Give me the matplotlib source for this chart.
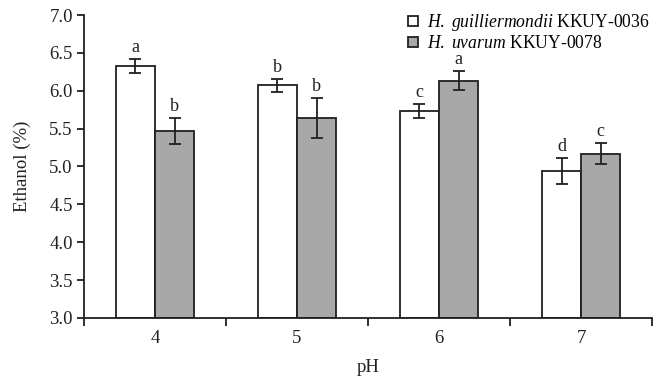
import matplotlib
matplotlib.use("Agg")
import matplotlib.pyplot as plt
from matplotlib.lines import Line2D
import numpy as np

plt.rcParams['font.family'] = 'serif'
plt.rcParams['font.serif'] = ['Liberation Serif', 'DejaVu Serif']
plt.rcParams['mathtext.fontset'] = 'custom'
plt.rcParams['mathtext.it'] = 'Liberation Serif:italic'
plt.rcParams['mathtext.rm'] = 'Liberation Serif'

# data
ph_levels = ['4', '5', '6', '7']
guill_vals = [6.33, 6.07, 5.73, 4.94]
guill_err = [0.09, 0.09, 0.095, 0.17]
guill_letters = ['a', 'b', 'c', 'd']
uvarum_vals = [5.47, 5.64, 6.13, 5.17]
uvarum_err = [0.17, 0.26, 0.125, 0.14]
uvarum_letters = ['b', 'b', 'a', 'c']
labels = [r'$\mathit{H.\ guilliermondii}$ KKUY-0036', r'$\mathit{H.\ uvarum}$ KKUY-0078']

ink = '#231f20'
grey = '#a8a8a8'

fig = plt.figure(figsize=(6.54, 3.81), dpi=100)
ax = fig.add_axes([0.1284, 0.1654, 0.8686, 0.7952])

x = np.arange(len(ph_levels))
w = 0.275
base = 3.0

for vals, errs, lets, off, fc in [(guill_vals, guill_err, guill_letters, -w / 2, 'white'),
                                  (uvarum_vals, uvarum_err, uvarum_letters, w / 2, grey)]:
    ax.bar(x + off, np.array(vals) - base, w, bottom=base, color=fc,
           edgecolor=ink, linewidth=1.3, zorder=2)
    ax.errorbar(x + off, vals, yerr=errs, fmt='none', ecolor=ink,
                elinewidth=1.3, capsize=4, capthick=1.3, zorder=3)
    for xi, v, e, l in zip(x + off, vals, errs, lets):
        ax.text(xi, v + e + 0.04, l, ha='center', va='bottom', fontsize=13, color=ink)

ax.set_xlim(-0.5, 3.5)
ax.set_ylim(3.0, 7.0)
ax.set_yticks(np.arange(3.0, 7.01, 0.5))
ax.set_yticklabels(['%.1f' % v for v in np.arange(3.0, 7.01, 0.5)])
ax.set_xticks(x)
ax.set_xticklabels(ph_levels)
ax.set_xticks(np.arange(-0.5, 3.6, 1.0), minor=True)
ax.tick_params(axis='x', which='major', length=0, pad=9, labelsize=13.5, colors=ink)
ax.tick_params(axis='x', which='minor', length=6, width=1.3, direction='out', color=ink)
ax.tick_params(axis='y', length=5, width=1.3, direction='out', labelsize=13.5, colors=ink, pad=3)

for s in ['top', 'right']:
    ax.spines[s].set_visible(False)
for s in ['left', 'bottom']:
    ax.spines[s].set_linewidth(1.3)
    ax.spines[s].set_color(ink)

ax.set_ylabel('Ethanol (%)', fontsize=13.5, color=ink, labelpad=13)
ax.set_xlabel('pH', fontsize=13.5, color=ink, labelpad=8)

handles = [Line2D([], [], marker='s', linestyle='none', markersize=6.5,
                  markerfacecolor=fc, markeredgecolor=ink, markeredgewidth=1.3)
           for fc in ['white', grey]]
ax.legend(handles, labels, loc='upper left', bbox_to_anchor=(0.555, 1.032), frameon=False,
          fontsize=12.7, handlelength=0.8, handletextpad=0.4, labelspacing=0.12,
          borderaxespad=0.0)

fig.savefig('out.png', dpi=100)
